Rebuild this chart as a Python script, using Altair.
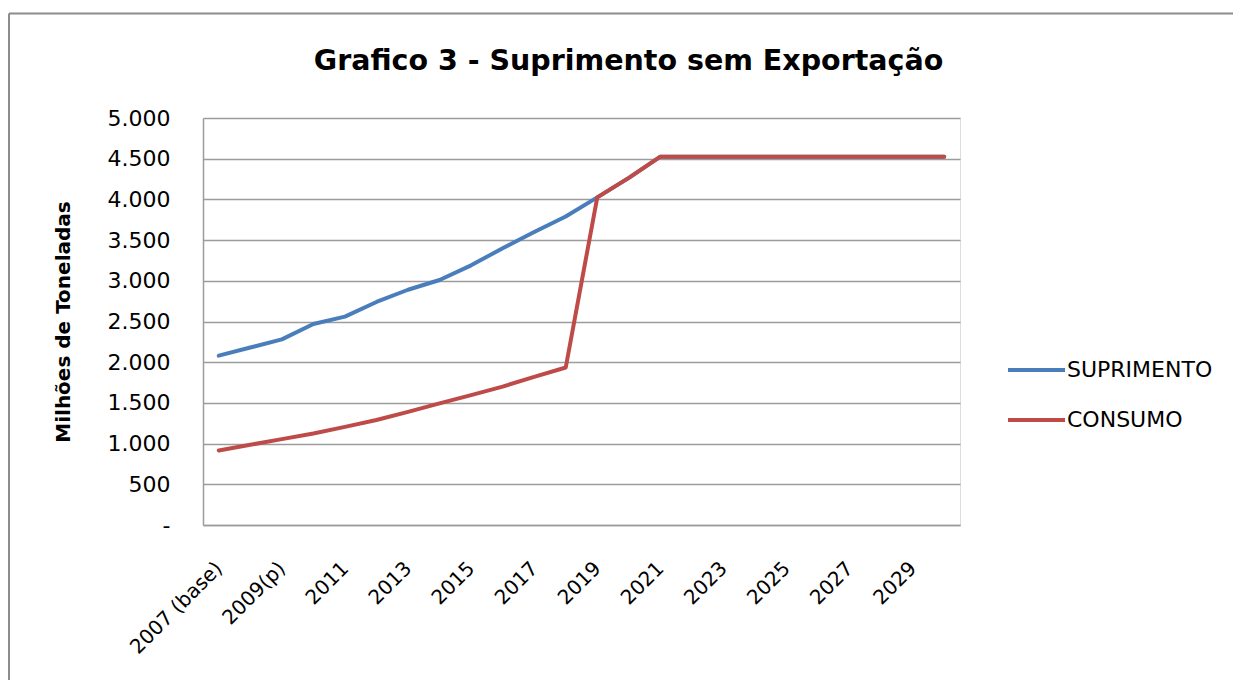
import altair as alt
import pandas as pd

anos = ["2007 (base)", "2008", "2009(p)", "2010", "2011", "2012", "2013", "2014",
        "2015", "2016", "2017", "2018", "2019", "2020", "2021", "2022", "2023",
        "2024", "2025", "2026", "2027", "2028", "2029", "2030"]
suprimento = [2080, 2180, 2280, 2470, 2560, 2740, 2890, 3010, 3190, 3400, 3600, 3790,
              4025, 4265, 4525, 4525, 4525, 4525, 4525, 4525, 4525, 4525, 4525, 4525]
consumo = [915, 985, 1055, 1125, 1205, 1290, 1390, 1495, 1595, 1700, 1820, 1935,
           4025, 4265, 4525, 4525, 4525, 4525, 4525, 4525, 4525, 4525, 4525, 4525]
series = ["SUPRIMENTO", "CONSUMO"]
cores = ["#4a7ebb", "#be4b48"]
y_ticks = [0, 500, 1000, 1500, 2000, 2500, 3000, 3500, 4000, 4500, 5000]
titulo = "Grafico 3 - Suprimento sem Exportação"
titulo_y = "Milhões de Toneladas"

rows = []
for nome, vals in zip(series, [suprimento, consumo]):
    for a, v in zip(anos, vals):
        rows.append({"ano": a, "valor": v, "serie": nome})
df = pd.DataFrame(rows)

FONT = "DejaVu Sans"
GRID = "#9c9c9c"
NB = "\u00a0"

y_label_expr = ("datum.value == 0 ? '-" + NB + NB + "' : "
                "replace(format(datum.value, ','), ',', '.')")

base = alt.Chart(df).mark_line(strokeWidth=4, strokeJoin="round", strokeCap="round").encode(
    x=alt.X("ano:N", sort=anos, scale=alt.Scale(padding=0.5),
            axis=alt.Axis(values=anos[::2], title=None, labelAngle=-45, labelAlign="right",
                          labelBaseline="middle", labelPadding=40, ticks=False,
                          domainColor=GRID, domainWidth=1.5, labelFontSize=20, labelFont=FONT,
                          labelColor="black", grid=False, labelOverlap=False)),
    y=alt.Y("valor:Q", scale=alt.Scale(domain=[0, 5000], nice=False),
            axis=alt.Axis(values=y_ticks, title=titulo_y, ticks=False, labelPadding=33,
                          labelExpr=y_label_expr,
                          labelFontSize=22, labelFont=FONT, labelColor="black",
                          gridColor=GRID, gridWidth=1.3, domainColor=GRID, domainWidth=1.5,
                          titleFont=FONT, titleFontSize=20, titleFontWeight="bold",
                          titleColor="black", titleAngle=-90, titleX=-134, titleY=203.5,
                          titleAlign="center", titleBaseline="alphabetic")),
    color=alt.Color("serie:N", scale=alt.Scale(domain=series, range=cores),
                    legend=alt.Legend(title=None, orient="none", legendX=803, legendY=221.5,
                                      symbolType="stroke", symbolSize=3249, symbolStrokeWidth=4,
                                      labelFontSize=22, labelFont=FONT, labelColor="black",
                                      labelOffset=0, rowPadding=8, padding=0))
)

blue = base.transform_filter(alt.datum.serie == "SUPRIMENTO")
red = base.transform_filter(alt.datum.serie == "CONSUMO")

frame_df = pd.DataFrame({"k": [0]})
frame_top = alt.Chart(frame_df).mark_rule(stroke="#8c8c8c", strokeWidth=2).encode(
    x=alt.value(-194), x2=alt.value(1030), y=alt.value(-104.5))
frame_left = alt.Chart(frame_df).mark_rule(stroke="#8c8c8c", strokeWidth=2).encode(
    x=alt.value(-194), y=alt.value(-104.5), y2=alt.value(570))

chart = alt.layer(frame_top, frame_left, blue, red).properties(
    width=757, height=407,
    autosize=alt.AutoSizeParams(type="none"),
    padding={"left": 195, "top": 110, "right": 273, "bottom": 155},
    title=alt.TitleParams(titulo, fontSize=28.5, font=FONT, fontWeight="bold", color="black",
                          anchor="middle", frame="group", dx=47, offset=-85.5,
                          baseline="alphabetic"),
).configure_view(stroke="transparent", strokeWidth=0).configure(background="white")

chart.save("out.html", embed_options={"renderer": "svg", "actions": False})
